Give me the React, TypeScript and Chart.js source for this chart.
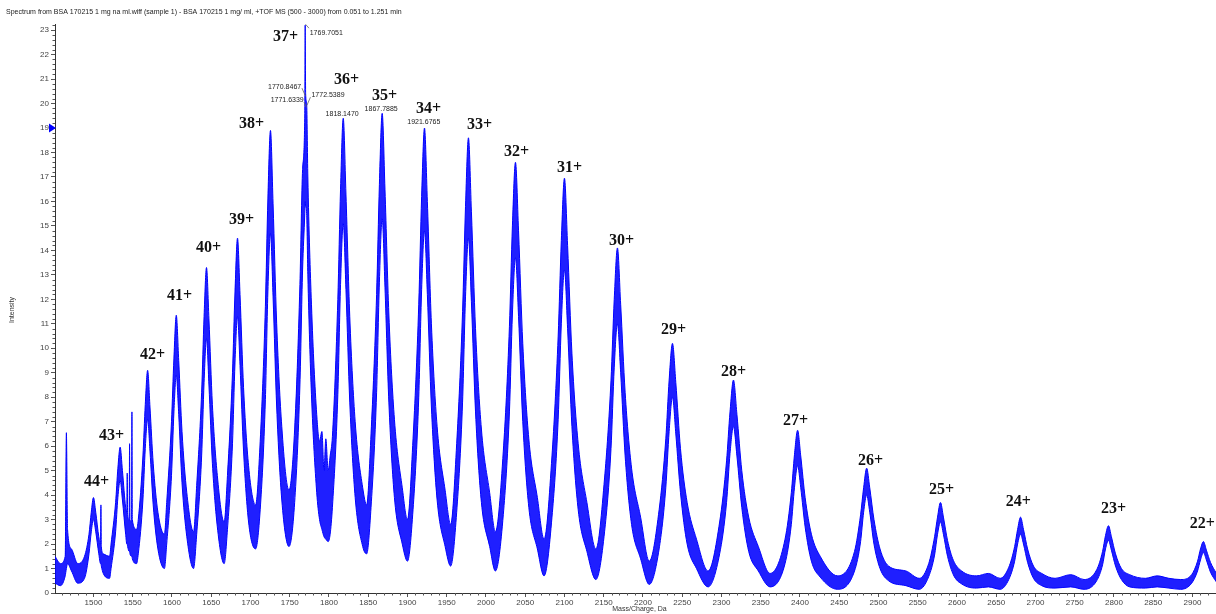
import React, { useEffect, useRef } from 'react';
import { Chart, registerables } from 'chart.js';

Chart.register(...registerables);

const titleText =
  'Spectrum from BSA 170215 1 mg na ml.wiff (sample 1) - BSA 170215 1 mg/ ml, +TOF MS (500 - 3000) from 0.051 to 1.251 min';
const xAxisTitle = 'Mass/Charge, Da';
const yAxisTitle = 'Intensity';

const xMin = 1451;
const xMax = 2930;
const yMin = 0;
const yMax = 23.25;
const markerIntensity = 19;

// spectrum envelope: m/z, lower edge and upper edge of the noisy trace
const specMz = [
  1451, 1458, 1464, 1465.5, 1467, 1472, 1480,
  1488.6, 1494.3, 1497.2, 1500, 1502.9, 1506.8, 1509, 1509.5, 1510, 1512.5, 1520.5,
  1522.4, 1528.2, 1531.1, 1534, 1536.9, 1541, 1542.5, 1543, 1543.5, 1545.5, 1546, 1546.5, 1548.5, 1549, 1549.5, 1554.9,
  1557.1, 1563, 1566, 1569, 1572, 1576.1, 1582.1, 1590.4,
  1593.3, 1599.4, 1602.5, 1605.5, 1608.6, 1612.8, 1618.9, 1627.5,
  1631.5, 1637.8, 1640.9, 1644, 1647.1, 1651.5, 1657.8, 1666.5,
  1670.7, 1677.1, 1680.3, 1683.5, 1686.7, 1691.2, 1697.6, 1706.5,
  1712.4, 1719, 1722.2, 1725.5, 1728.8, 1733.4, 1739.9, 1749.1,
  1756.3, 1763, 1766.4, 1769.2, 1769.7, 1770.3, 1771.6, 1773.1, 1777.7, 1784.4, 1788, 1791, 1793.7, 1796, 1799, 1801.5,
  1804.4, 1811.3, 1814.75, 1818.2, 1821.65, 1826.5, 1833.4, 1843, 1848,
  1853.6, 1860.7, 1864.25, 1867.8, 1871.35, 1876.3, 1883.4, 1893.4, 1900,
  1907.1, 1914.4, 1918.05, 1921.7, 1925.35, 1930.5, 1937.8, 1948, 1955,
  1962.7, 1970.2, 1973.95, 1977.7, 1981.45, 1986.7, 1994.2, 2004.7, 2012,
  2022.1, 2029.9, 2033.7, 2037.6, 2041.5, 2046.9, 2054.6, 2065.5, 2074,
  2084.1, 2092, 2096, 2100, 2104, 2109.5, 2117.5, 2128.6, 2140,
  2151.1, 2159.3, 2163.4, 2167.5, 2171.6, 2177.3, 2185.5, 2197, 2208,
  2220.6, 2229.1, 2233.35, 2237.6, 2241.85, 2247.8, 2256.3, 2268.2, 2283,
  2297.7, 2306.5, 2310.9, 2315.3, 2319.7, 2325.9, 2334.7, 2347, 2362,
  2381, 2389, 2393, 2397, 2401, 2406.6, 2414.6, 2425.8, 2448,
  2469.5, 2477.25, 2481.1, 2485, 2488.9, 2494.3, 2502, 2512.9, 2535, 2552,
  2564, 2571.5, 2575.25, 2579, 2582.75, 2588, 2595.5, 2606, 2625, 2640, 2655,
  2666, 2673.5, 2677.25, 2681, 2684.75, 2690, 2697.5, 2708, 2725, 2745, 2762,
  2778, 2785.5, 2789.25, 2793, 2796.75, 2802, 2809.5, 2820, 2840, 2855, 2870, 2885,
  2899, 2906.5, 2910.25, 2914, 2917.75, 2923, 2930.5,
];
const specLow = [
  0.4, 0.3, 0.7, 1.0, 1.2, 0.9, 0.4,
  0.6, 1.6, 2.5, 3.0, 2.5, 1.6, 1.2, 1.2, 1.1, 0.8, 0.6,
  1.0, 2.5, 3.9, 4.6, 3.8, 2.4, 2.0, 2.0, 1.9, 1.7, 1.7, 1.6, 1.5, 1.5, 1.4, 1.2,
  1.6, 3.8, 5.9, 7.1, 5.8, 3.6, 1.8, 1.0,
  2.0, 4.8, 7.4, 8.9, 7.3, 4.5, 2.3, 1.0,
  2.4, 5.6, 8.6, 10.4, 8.5, 5.3, 2.7, 1.2,
  2.6, 6.1, 9.4, 11.3, 9.3, 5.8, 2.9, 1.8,
  3.4, 7.9, 12.3, 14.7, 12.1, 7.6, 3.8, 1.9,
  3.7, 8.5, 13.2, 15.5, 16.0, 15.8, 15.5, 13.0, 8.1, 4.1, 3.0, 2.6, 2.3, 2.2, 2.1, 2.4,
  3.5, 8.1, 12.6, 15.1, 12.4, 7.8, 3.9, 1.9, 1.6,
  3.5, 8.2, 12.7, 15.3, 12.5, 7.8, 3.9, 2.0, 1.3,
  3.4, 8.0, 12.4, 14.8, 12.2, 7.6, 3.8, 1.9, 1.1,
  3.3, 7.8, 12.1, 14.5, 11.9, 7.4, 3.7, 1.9, 0.9,
  3.2, 7.4, 11.4, 13.7, 11.3, 7.0, 3.5, 1.8, 0.7,
  3.1, 7.1, 11.0, 13.2, 10.8, 6.8, 3.4, 1.7, 0.55,
  2.5, 5.9, 9.2, 11.0, 9.0, 5.6, 2.8, 1.4, 0.35,
  1.8, 4.3, 6.6, 8.0, 6.5, 4.1, 2.0, 1.0, 0.25,
  1.6, 3.7, 5.7, 6.8, 5.6, 3.5, 1.7, 0.9, 0.25,
  1.2, 2.8, 4.3, 5.2, 4.3, 2.7, 1.3, 0.65, 0.15,
  0.9, 2.1, 3.3, 4.0, 3.3, 2.0, 1.0, 0.5, 0.3, 0.15,
  0.67, 1.55, 2.4, 2.9, 2.4, 1.5, 0.74, 0.37, 0.2, 0.25, 0.15,
  0.55, 1.3, 2.0, 2.4, 2.0, 1.25, 0.6, 0.3, 0.2, 0.25, 0.15,
  0.5, 1.15, 1.8, 2.15, 1.75, 1.1, 0.55, 0.25, 0.2, 0.25, 0.2, 0.15,
  0.4, 0.9, 1.35, 1.65, 1.35, 0.85, 0.45,
];
const specHigh = [
  1.5, 1.2, 1.5, 6.55, 2.6, 1.8, 1.2,
  1.5, 2.4, 3.3, 3.9, 3.3, 2.3, 2.0, 3.6, 1.9, 1.6, 1.5,
  2.0, 3.7, 5.1, 5.96, 5.0, 3.5, 3.3, 4.9, 3.2, 3.0, 6.1, 3.0, 2.9, 7.4, 3.0, 2.6,
  3.0, 5.6, 7.7, 9.1, 7.6, 5.3, 3.3, 2.4,
  3.7, 7.0, 9.6, 11.35, 9.5, 6.6, 4.1, 2.5,
  4.4, 8.2, 11.3, 13.3, 11.2, 7.7, 4.8, 2.9,
  4.8, 9.0, 12.3, 14.5, 12.2, 8.4, 5.2, 3.6,
  6.2, 11.7, 16.1, 18.9, 15.9, 11.0, 6.8, 4.2,
  6.7, 12.6, 17.3, 19.6, 23.2, 20.4, 20.0, 17.0, 11.8, 7.3, 6.2, 6.6, 5.0, 6.3, 5.0, 5.6,
  6.4, 12.0, 16.5, 19.4, 16.3, 11.3, 7.0, 4.3, 3.6,
  6.5, 12.2, 16.7, 19.6, 16.5, 11.4, 7.1, 4.3, 3.0,
  6.3, 11.8, 16.2, 19.0, 16.0, 11.0, 6.8, 4.2, 2.8,
  6.1, 11.5, 15.8, 18.6, 15.6, 10.8, 6.7, 4.1, 2.5,
  5.8, 10.9, 15.0, 17.6, 14.8, 10.2, 6.3, 3.9, 2.2,
  5.6, 10.5, 14.4, 16.95, 14.2, 9.8, 6.1, 3.7, 1.8,
  4.7, 8.7, 12.0, 14.1, 11.8, 8.2, 5.1, 3.1, 1.3,
  3.4, 6.3, 8.7, 10.2, 8.6, 5.9, 3.7, 2.2, 0.9,
  2.9, 5.4, 7.4, 8.7, 7.3, 5.0, 3.1, 1.9, 0.8,
  2.2, 4.1, 5.65, 6.65, 5.6, 3.9, 2.4, 1.5, 0.7,
  1.7, 3.2, 4.3, 5.1, 4.3, 3.0, 1.8, 1.1, 0.9, 0.6,
  1.2, 2.3, 3.1, 3.7, 3.1, 2.15, 1.33, 0.9, 0.7, 0.8, 0.6,
  1.05, 1.9, 2.6, 3.1, 2.6, 1.8, 1.1, 0.8, 0.6, 0.75, 0.55,
  0.95, 1.7, 2.35, 2.75, 2.3, 1.6, 1.0, 0.75, 0.6, 0.7, 0.6, 0.55,
  0.75, 1.3, 1.8, 2.1, 1.75, 1.25, 0.8,
];

// charge-state annotations (text centre in data coordinates)
const chargeLabels = [
  '44+', '43+', '42+', '41+', '40+', '39+', '38+', '37+', '36+', '35+', '34+', '33+',
  '32+', '31+', '30+', '29+', '28+', '27+', '26+', '25+', '24+', '23+', '22+',
];
const chargeLabelMz = [
  1503.8, 1522.9, 1575.2, 1609.6, 1646.5, 1688.5, 1701.3, 1744.6, 1822.3, 1870.7, 1926.8, 1991.7,
  2038.9, 2106.4, 2172.6, 2238.9, 2315.3, 2394.3, 2489.8, 2580.3, 2678.3, 2799.4, 2912.7,
];
const chargeLabelInt = [
  4.53, 6.41, 9.72, 12.13, 14.09, 15.24, 19.16, 22.71, 20.96, 20.3, 19.77, 19.12,
  18.01, 17.36, 14.38, 10.74, 9.03, 7.03, 5.39, 4.21, 3.72, 3.43, 2.82,
];

// m/z annotations
const massLabels = ['1769.7051', '1770.8467', '1771.6339', '1772.5389', '1818.1470', '1867.7885', '1921.6765'];
const massLabelMz = [1775.5, 1764.6, 1767.9, 1777.7, 1816.8, 1866.5, 1920.8];
const massLabelInt = [22.89, 20.68, 20.14, 20.34, 19.55, 19.76, 19.23];
const massLabelAlign = ['left', 'right', 'right', 'left', 'center', 'center', 'center'];
// leader lines: start m/z, start intensity, end m/z, end intensity
const leaderStartMz = [1770.1, 1765.6, 1768.2, 1776.4];
const leaderStartInt = [23.24, 20.63, 20.06, 20.26];
const leaderEndMz = [1774.5, 1770.1, 1771.3, 1772.0];
const leaderEndInt = [23.08, 20.3, 19.85, 19.93];

const SANS = '"Liberation Sans", Arial, sans-serif';
const SERIF = '"Liberation Serif", "Times New Roman", serif';
const BLUE = 'rgb(0, 0, 255)';

const annotationPlugin = {
  id: 'spectrumAnnotations',
  afterDraw(chart: any) {
    const ctx = chart.ctx as CanvasRenderingContext2D;
    const xs = chart.scales.x;
    const ys = chart.scales.y;
    const area = chart.chartArea;
    ctx.save();

    // minor ticks
    ctx.strokeStyle = '#555';
    ctx.lineWidth = 1;
    ctx.beginPath();
    for (let v = 1460; v <= xMax; v += 10) {
      if (v % 50 === 0) continue;
      const px = Math.round(xs.getPixelForValue(v)) + 0.5;
      ctx.moveTo(px, area.bottom);
      ctx.lineTo(px, area.bottom + 2.5);
    }
    for (let i = 1; i * 0.2 <= yMax; i++) {
      if (i % 5 === 0) continue;
      const py = Math.round(ys.getPixelForValue(i * 0.2)) + 0.5;
      ctx.moveTo(area.left, py);
      ctx.lineTo(area.left - 2.5, py);
    }
    ctx.stroke();

    // title
    ctx.fillStyle = '#222';
    ctx.font = `7px ${SANS}`;
    ctx.textAlign = 'left';
    ctx.textBaseline = 'middle';
    ctx.fillText(titleText, 6, 12);

    // axis titles
    ctx.font = `7px ${SANS}`;
    ctx.fillStyle = '#333';
    ctx.textAlign = 'center';
    ctx.fillText(xAxisTitle, (area.left + area.right) / 2 + 4, 609);
    ctx.save();
    ctx.translate(12, 310);
    ctx.rotate(-Math.PI / 2);
    ctx.fillText(yAxisTitle, 0, 0);
    ctx.restore();

    // marker on y axis
    const my = ys.getPixelForValue(markerIntensity);
    ctx.fillStyle = BLUE;
    ctx.beginPath();
    ctx.moveTo(area.left - 6, my - 4.5);
    ctx.lineTo(area.left + 1, my);
    ctx.lineTo(area.left - 6, my + 4.5);
    ctx.closePath();
    ctx.fill();

    // leader lines
    ctx.strokeStyle = '#666';
    ctx.lineWidth = 0.8;
    ctx.beginPath();
    for (let i = 0; i < leaderStartMz.length; i++) {
      ctx.moveTo(xs.getPixelForValue(leaderStartMz[i]), ys.getPixelForValue(leaderStartInt[i]));
      ctx.lineTo(xs.getPixelForValue(leaderEndMz[i]), ys.getPixelForValue(leaderEndInt[i]));
    }
    ctx.stroke();

    // mass labels
    ctx.fillStyle = '#222';
    ctx.font = `7px ${SANS}`;
    ctx.textBaseline = 'middle';
    for (let i = 0; i < massLabels.length; i++) {
      ctx.textAlign = massLabelAlign[i] as CanvasTextAlign;
      ctx.fillText(massLabels[i], xs.getPixelForValue(massLabelMz[i]), ys.getPixelForValue(massLabelInt[i]));
    }

    // charge labels
    ctx.fillStyle = '#111';
    ctx.font = `bold 16px ${SERIF}`;
    ctx.textAlign = 'center';
    for (let i = 0; i < chargeLabels.length; i++) {
      ctx.fillText(chargeLabels[i], xs.getPixelForValue(chargeLabelMz[i]), ys.getPixelForValue(chargeLabelInt[i]));
    }
    ctx.restore();
  },
};

export default function App() {
  const ref = useRef<HTMLCanvasElement | null>(null);
  useEffect(() => {
    if (!ref.current) return;
    const low = specMz.map((m, i) => ({ x: m, y: specLow[i] }));
    const high = specMz.map((m, i) => ({ x: m, y: specHigh[i] }));
    const chart = new Chart(ref.current, {
      type: 'line',
      data: {
        datasets: [
          {
            data: low,
            borderColor: BLUE,
            borderWidth: 1,
            pointRadius: 0,
            fill: false,
            cubicInterpolationMode: 'monotone',
          },
          {
            data: high,
            borderColor: BLUE,
            borderWidth: 1,
            pointRadius: 0,
            fill: 0,
            backgroundColor: 'rgba(0, 0, 255, 0.88)',
            cubicInterpolationMode: 'monotone',
          },
        ],
      },
      options: {
        animation: false,
        responsive: false,
        devicePixelRatio: 1,
        layout: { padding: { top: 24, right: 0, left: 0, bottom: 0 } },
        plugins: { legend: { display: false }, tooltip: { enabled: false }, title: { display: false } },
        events: [],
        scales: {
          x: {
            type: 'linear',
            min: xMin,
            max: xMax,
            afterFit: (s: any) => {
              s.height = 21;
            },
            ticks: {
              stepSize: 50,
              includeBounds: false,
              autoSkip: false,
              maxRotation: 0,
              padding: 1,
              color: '#444',
              font: { size: 8, family: SANS },
              callback: (v: any) => String(v),
            },
            grid: { display: true, drawOnChartArea: false, drawTicks: true, tickLength: 4, color: '#555' },
            border: { display: true, color: '#333', width: 1 },
          },
          y: {
            type: 'linear',
            min: yMin,
            max: yMax,
            afterFit: (s: any) => {
              s.width = 55;
            },
            ticks: {
              stepSize: 1,
              includeBounds: false,
              autoSkip: false,
              padding: 2,
              color: '#444',
              font: { size: 8, family: SANS },
              callback: (v: any) => String(v),
            },
            grid: { display: true, drawOnChartArea: false, drawTicks: true, tickLength: 4, color: '#555' },
            border: { display: true, color: '#333', width: 1 },
          },
        },
      },
      plugins: [annotationPlugin],
    });
    return () => chart.destroy();
  }, []);
  return (
    <div style={{ position: 'fixed', left: 0, top: 0, width: 1216, height: 614, background: '#fff' }}>
      <canvas ref={ref} width={1216} height={614} style={{ display: 'block' }} />
    </div>
  );
}
